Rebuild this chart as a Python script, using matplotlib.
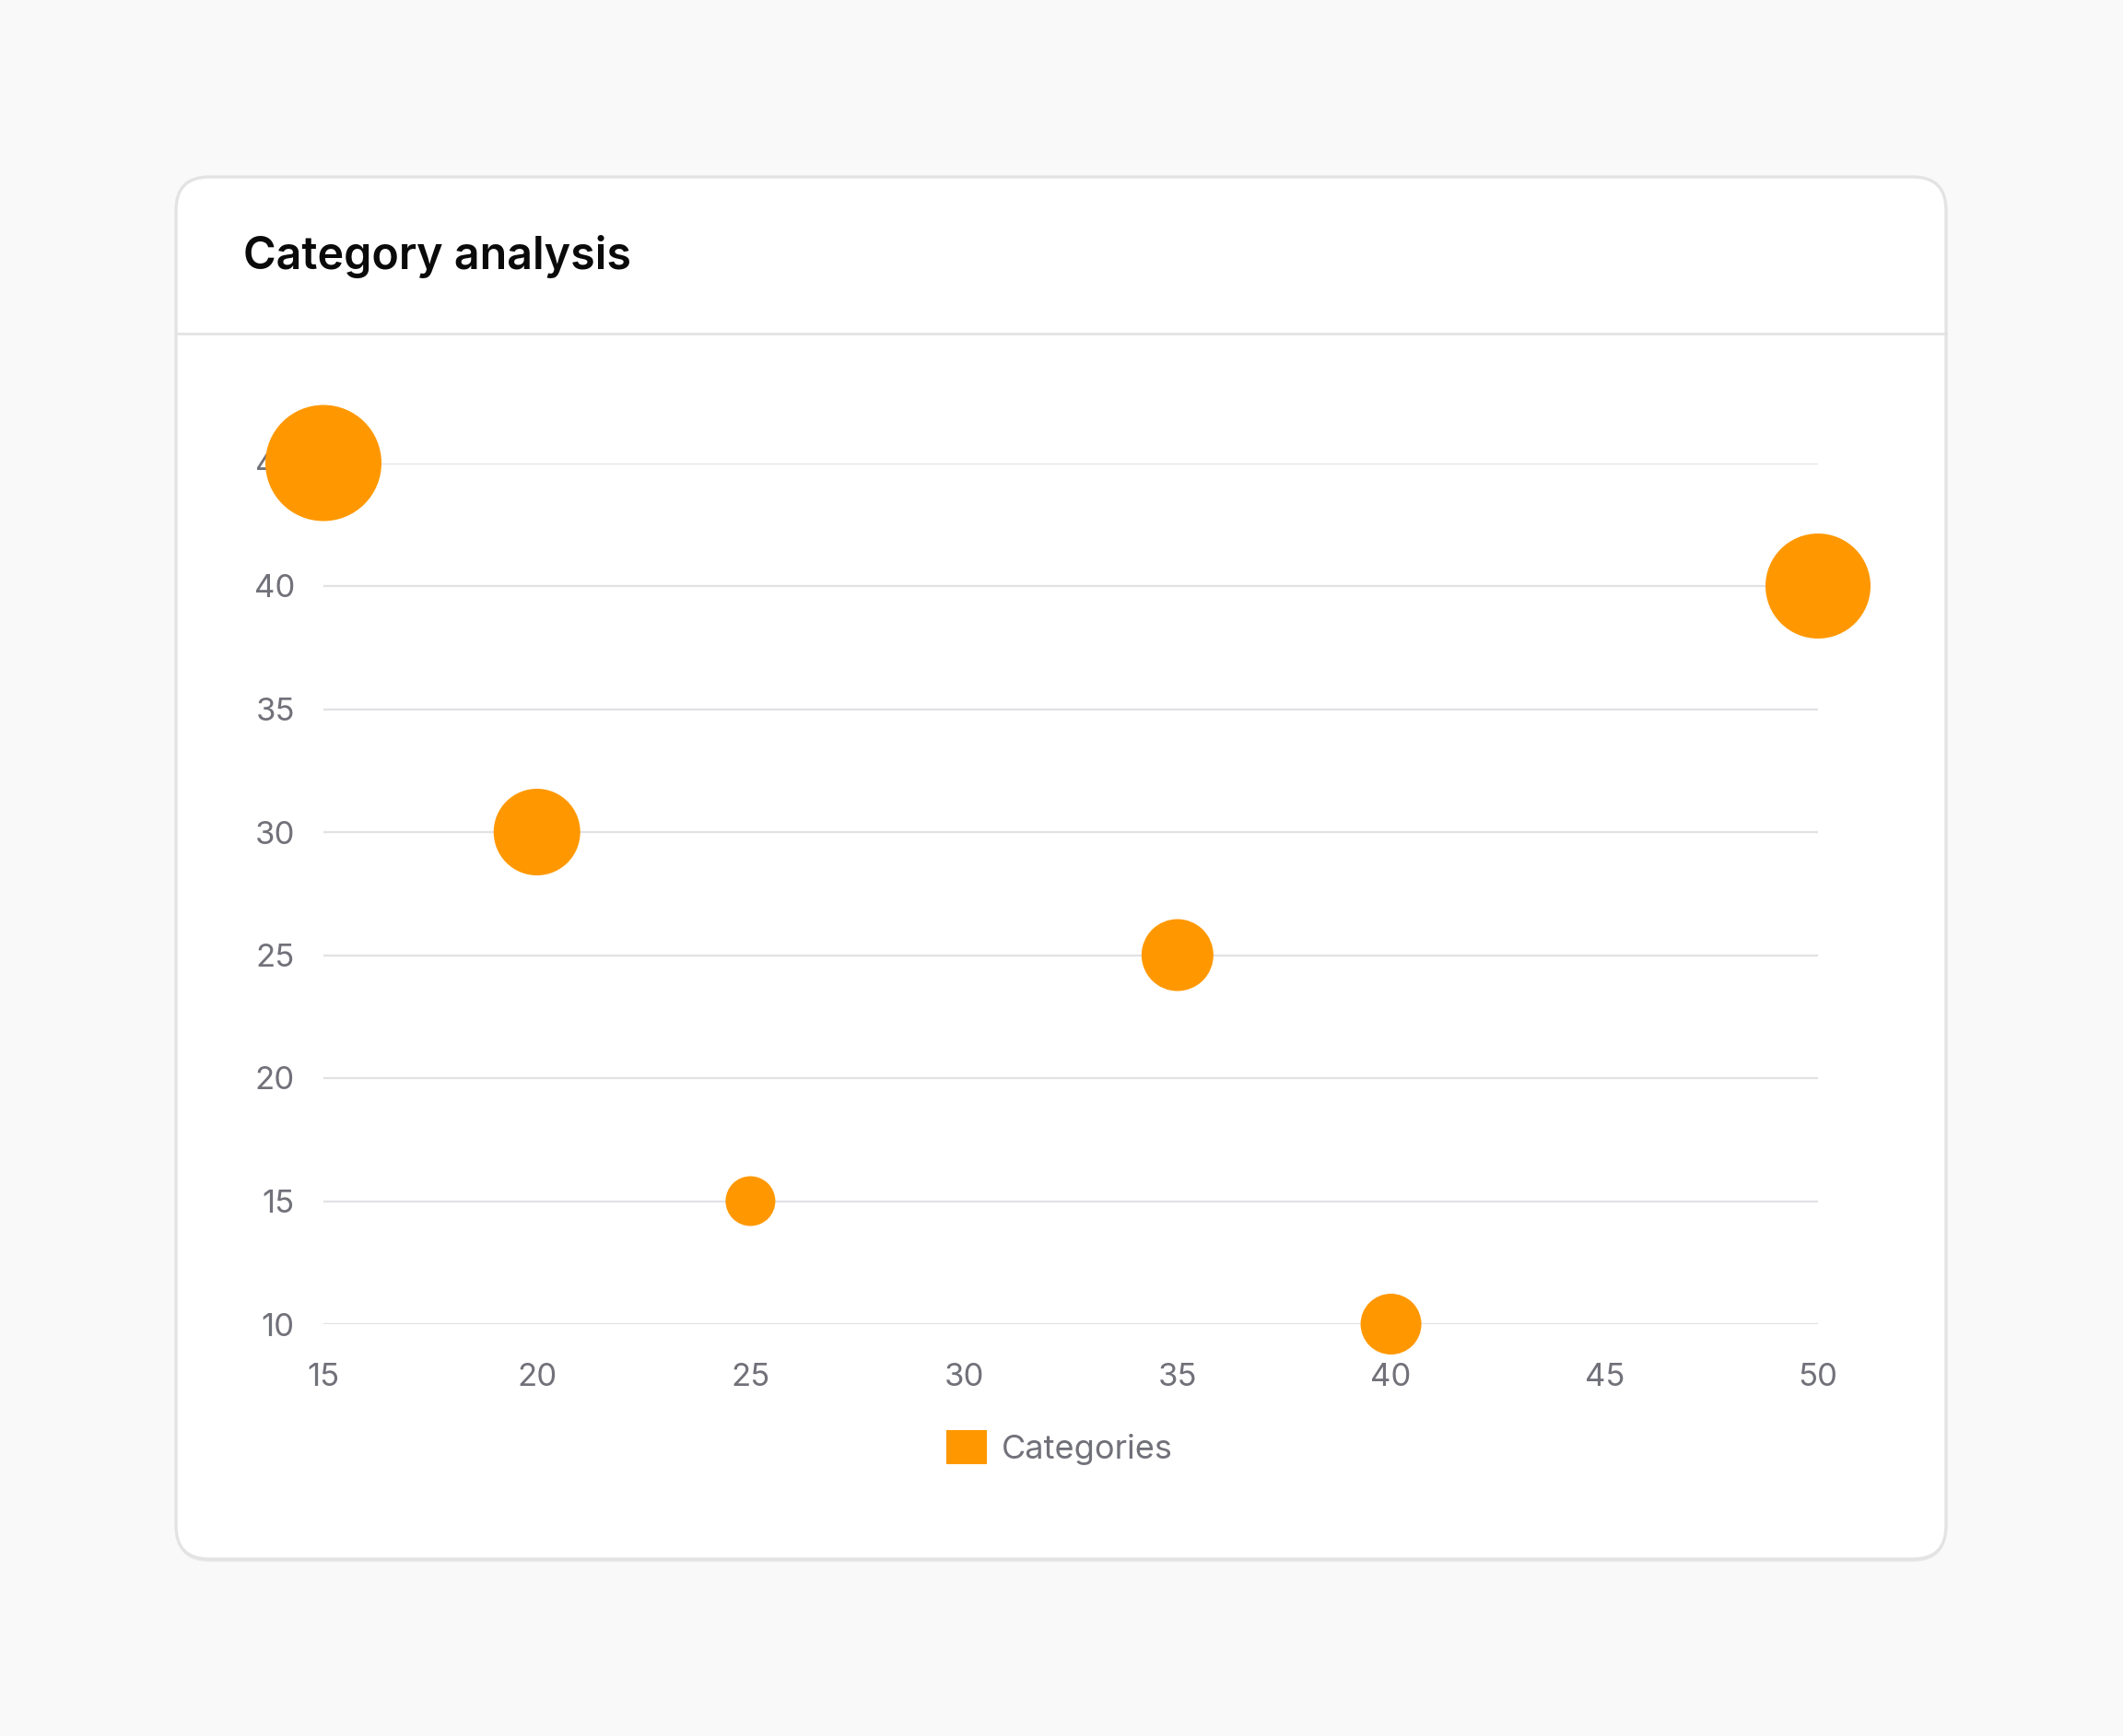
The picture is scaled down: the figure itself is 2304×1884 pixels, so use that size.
import matplotlib
matplotlib.use("Agg")
import matplotlib.pyplot as plt
from matplotlib.patches import FancyBboxPatch, Patch
from matplotlib.lines import Line2D

# data
x_values = [15, 50, 20, 35, 25, 40]
y_values = [45, 40, 30, 25, 15, 10]
radius = [30, 27, 22, 18, 12, 15]   # bubble radius (css px)
x_ticks = [15, 20, 25, 30, 35, 40, 45, 50]
y_ticks = [10, 15, 20, 25, 30, 35, 40, 45]
series_name = "Categories"
title = "Category analysis"

W, H, DPI = 2304, 1884, 200
orange = "#ff9800"
tick_color = "#71717a"
grid_color = "#e2e2e5"

plt.rcParams['font.family'] = ['Inter', 'DejaVu Sans']

fig = plt.figure(figsize=(W / DPI, H / DPI), dpi=DPI)
fig.patch.set_facecolor("#f9f9f9")

# card (pixel coords, origin bottom-left)
card_l, card_t, card_r, card_b = 191, 192, 2112, 1692
shadow = FancyBboxPatch((card_l, H - card_b - 3), card_r - card_l, card_b - card_t,
                        boxstyle="round,pad=0,rounding_size=36", transform=None,
                        facecolor="#000000", alpha=0.06, edgecolor="none", zorder=0)
fig.patches.append(shadow)
card = FancyBboxPatch((card_l, H - card_b), card_r - card_l, card_b - card_t,
                      boxstyle="round,pad=0,rounding_size=36", transform=None,
                      facecolor="white", edgecolor="#e3e3e3", linewidth=1.2, zorder=1)
fig.patches.append(card)

# header divider
fig.lines.append(Line2D([card_l / W, card_r / W], [1 - 362 / H, 1 - 362 / H],
                        transform=fig.transFigure, color="#e3e3e3", linewidth=1.0, zorder=2))

fig.text(264 / W, 1 - 279 / H, title, fontsize=17.45, fontweight="semibold",
         color="#0a0a0a", va="center", ha="left", zorder=3)

# plot area
ax_l, ax_r, ax_t, ax_b = 351, 1973, 502.5, 1437
ax = fig.add_axes([ax_l / W, 1 - ax_b / H, (ax_r - ax_l) / W, (ax_b - ax_t) / H])
ax.set_zorder(3)
ax.set_facecolor("none")

# radius (css px) -> device px (x2) + border, then to points
sizes = [(2 * ((r + 1.5) * 2) * 72 / DPI) ** 2 for r in radius]
ax.scatter(x_values, y_values, s=sizes, color=orange, edgecolors="none",
           zorder=3, clip_on=False)

ax.set_xlim(15, 50)
ax.set_ylim(10, 45)
ax.set_xticks(x_ticks)
ax.set_yticks(y_ticks)
ax.grid(axis="y", color=grid_color, linewidth=0.8)
ax.grid(axis="x", visible=False)
ax.set_axisbelow(True)
for s in ax.spines.values():
    s.set_visible(False)
ax.tick_params(axis="both", length=0, labelsize=12.5, labelcolor=tick_color)
ax.tick_params(axis="y", pad=11.2)
ax.tick_params(axis="x", pad=15)

leg = fig.legend(handles=[Patch(facecolor=orange, edgecolor="none")], labels=[series_name],
                 loc="center", bbox_to_anchor=(1150 / W, 1 - 1571 / H),
                 frameon=False, fontsize=13, handlelength=1.2, handleheight=1.2,
                 handletextpad=0.45, labelcolor=tick_color)
leg.set_zorder(3)

fig.savefig("out.png", dpi=DPI, facecolor=fig.get_facecolor())
